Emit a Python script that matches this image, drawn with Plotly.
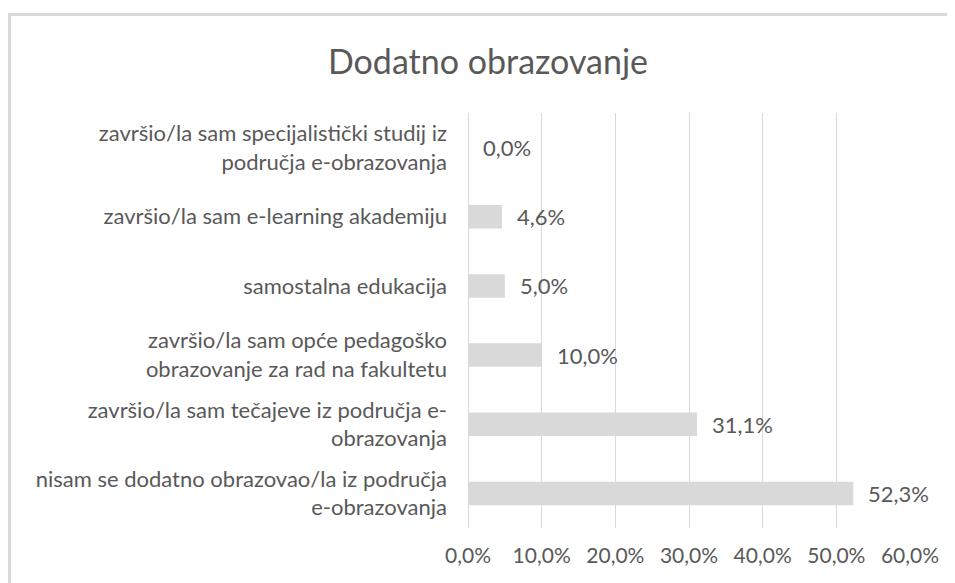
import plotly.graph_objects as go

categories = [
    "završio/la sam specijalistički studij iz<br>područja e-obrazovanja",
    "završio/la sam e-learning akademiju",
    "samostalna edukacija",
    "završio/la sam opće pedagoško<br>obrazovanje za rad na fakultetu",
    "završio/la sam tečajeve iz područja e-<br>obrazovanja",
    "nisam se dodatno obrazovao/la iz područja<br>e-obrazovanja",
]
values = [0.0, 4.6, 5.0, 10.0, 31.1, 52.3]
value_labels = ["0,0%", "4,6%", "5,0%", "10,0%", "31,1%", "52,3%"]
tick_vals = [0, 10, 20, 30, 40, 50, 60]
tick_text = ["0,0%", "10,0%", "20,0%", "30,0%", "40,0%", "50,0%", "60,0%"]

FONT = "Lato"
GRAY = "#595959"

fig = go.Figure()
fig.add_trace(go.Bar(
    y=categories, x=values, orientation="h",
    marker=dict(color="#d9d9d9", line=dict(width=0)),
    hoverinfo="skip",
))

for c, v, t in zip(categories, values, value_labels):
    fig.add_annotation(x=v, y=c, text=t, showarrow=False, xanchor="left",
                       xshift=13, font=dict(family=FONT, size=22, color=GRAY))

# page body has an 8px margin, so figure coords = page coords - 8
W, H = 947, 575
L, R, T, B = 460, 45, 105, 55
pw, ph = W - L - R, H - T - B
fig.add_shape(type="rect", xref="paper", yref="paper",
              x0=(1.5 - L) / pw, x1=(990 - L) / pw,
              y0=1 - (620 - T) / ph, y1=1 - (6.5 - T) / ph,
              line=dict(color="#d9d9d9", width=3), fillcolor="rgba(0,0,0,0)", layer="below")

fig.update_layout(
    width=W, height=H,
    margin=dict(l=L, r=R, t=T, b=B),
    paper_bgcolor="white", plot_bgcolor="white",
    bargap=0.66,
    showlegend=False,
    title=dict(text="Dodatno obrazovanje", x=480 / W, xref="container", xanchor="center",
               y=1 - 54 / H, yref="container", yanchor="middle",
               font=dict(family=FONT, size=34, color=GRAY)),
    font=dict(family=FONT, size=22, color=GRAY),
)
fig.update_xaxes(range=[0, 60], tickvals=tick_vals, ticktext=tick_text,
                 showgrid=True, gridcolor="#d9d9d9", gridwidth=1,
                 zeroline=True, zerolinecolor="#d9d9d9", zerolinewidth=1,
                 showline=False, ticks="", ticklabelstandoff=13, automargin=False,
                 tickfont=dict(family=FONT, size=21, color=GRAY), fixedrange=True)
fig.update_yaxes(autorange="reversed", showgrid=False, showline=False, ticks="",
                 ticklabelstandoff=20, automargin=False,
                 tickfont=dict(family=FONT, size=22, color=GRAY), fixedrange=True)

fig.write_html("out.html")
